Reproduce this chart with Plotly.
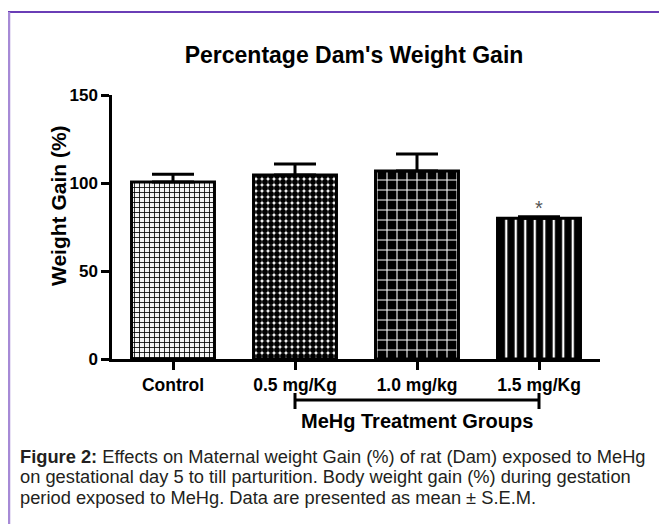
import plotly.graph_objects as go

categories = ["Control", "0.5 mg/Kg", "1.0 mg/kg", "1.5 mg/Kg"]
means = [100.5, 104.5, 106.8, 80.0]
sem = [4.5, 6.3, 9.7, 0.8]
significance = ["", "", "", "*"]

title_text = "Percentage Dam's Weight Gain"
y_title = "Weight Gain (%)"
group_label = "MeHg Treatment Groups"
caption_lines = [
    "<b>Figure 2:</b> Effects on Maternal weight Gain (%) of rat (Dam) exposed to MeHg",
    "on gestational day 5 to till parturition. Body weight gain (%) during gestation",
    "period exposed to MeHg. Data are presented as mean \u00b1 S.E.M.",
]

FONT = "Liberation Sans, Arial, sans-serif"
OFF = 8  # page body margin
W, H = 667, 524
L, T = 112 - OFF, 95 - OFF
PW, PH = 488, 264
R = W - L - PW
B = H - T - PH


def px_x(px):
    return (px - OFF - L) / PW


def px_y(py):
    return (T + PH - (py - OFF)) / PH


patterns = [
    dict(shape="+", fgcolor="black", bgcolor="#f4f4f4", size=5, solidity=0.3),
    dict(shape=".", fgcolor="black", bgcolor="white", size=6, solidity=0.75),
    dict(shape="+", fgcolor="white", bgcolor="black", size=10, solidity=0.2),
    dict(shape="|", fgcolor="white", bgcolor="black", size=9.5, solidity=0.24),
]

fig = go.Figure()
for i, c in enumerate(categories):
    fig.add_trace(go.Bar(
        x=[c], y=[means[i]],
        marker=dict(color=patterns[i]["bgcolor"], line=dict(color="black", width=3),
                    pattern=dict(shape=patterns[i]["shape"], fgcolor=patterns[i]["fgcolor"],
                                 bgcolor=patterns[i]["bgcolor"], size=patterns[i]["size"],
                                 solidity=patterns[i]["solidity"], fillmode="replace")),
        error_y=dict(type="data", symmetric=False, array=[sem[i]], arrayminus=[0],
                     color="black", thickness=3, width=21),
        showlegend=False,
    ))

annotations = []
for i, s in enumerate(significance):
    if s:
        annotations.append(dict(x=categories[i], y=means[i] + sem[i], xref="x", yref="y",
                                text=s, showarrow=False, yanchor="bottom", yshift=-4,
                                font=dict(family=FONT, size=20, color="#555555")))

annotations.append(dict(x=px_x(58), y=px_y(206), xref="paper", yref="paper", text="<b>" + y_title + "</b>",
                        textangle=-90, showarrow=False, xanchor="center", yanchor="middle",
                        font=dict(family=FONT, size=21, color="black")))
annotations.append(dict(x=2, y=px_y(421), xref="x", yref="paper", text="<b>" + group_label + "</b>",
                        showarrow=False, yanchor="middle", font=dict(family=FONT, size=20, color="black")))
for k, line in enumerate(caption_lines):
    annotations.append(dict(x=px_x(18), y=px_y(456 + 20.5 * k), xref="paper", yref="paper", text=line,
                            showarrow=False, xanchor="left", yanchor="middle",
                            font=dict(family=FONT, size=18.3, color="#231f20")))

shapes = [
    dict(type="line", xref="x", yref="paper", x0=1, x1=3, y0=px_y(400), y1=px_y(400),
         line=dict(color="black", width=3)),
    dict(type="line", xref="x", yref="paper", x0=1, x1=1, y0=px_y(393), y1=px_y(409),
         line=dict(color="black", width=3)),
    dict(type="line", xref="x", yref="paper", x0=3, x1=3, y0=px_y(393), y1=px_y(409),
         line=dict(color="black", width=3)),
    dict(type="line", xref="paper", yref="paper", x0=px_x(8), x1=px_x(680), y0=px_y(12), y1=px_y(12),
         line=dict(color="#6a3db6", width=2)),
    dict(type="line", xref="paper", yref="paper", x0=px_x(9), x1=px_x(9), y0=px_y(12), y1=px_y(540),
         line=dict(color="#a68ad6", width=2.5)),
]

fig.update_layout(
    width=W, height=H, margin=dict(l=L, r=R, t=T, b=B, autoexpand=False),
    paper_bgcolor="white", plot_bgcolor="white",
    bargap=0.32,
    title=dict(text="<b>" + title_text + "</b>", x=px_x(354), xref="paper", xanchor="center",
               y=1 - (55 - OFF) / H, yanchor="middle", font=dict(family=FONT, size=23, color="black")),
    annotations=annotations, shapes=shapes,
)
fig.update_xaxes(type="category", range=[-0.5, 3.5], showline=True, linecolor="black", linewidth=2.5,
                 ticks="outside", ticklen=8, tickwidth=2.5, tickcolor="black", showgrid=False,
                 tickfont=dict(family=FONT, size=17.5, color="black", weight="bold"))
fig.update_yaxes(range=[0, 150], tickvals=[0, 50, 100, 150], showline=True, linecolor="black", linewidth=2.5,
                 ticks="outside", ticklen=8, tickwidth=2.5, tickcolor="black", showgrid=False, zeroline=False,
                 tickfont=dict(family=FONT, size=17, color="black", weight="bold"))

fig.write_html("out.html")
